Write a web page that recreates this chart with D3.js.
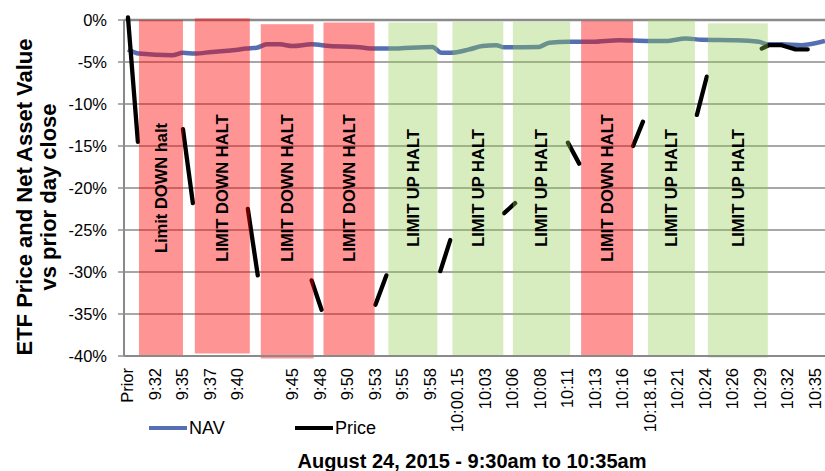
<!DOCTYPE html>
<html>
<head>
<meta charset="utf-8">
<script src="https://cdn.jsdelivr.net/npm/d3@7"></script>
<style>
    body { margin: 0; background: #fff; }
    text { font-family: "Liberation Sans", Arial, sans-serif; }
</style>
</head>
<body>
<svg></svg>
<script>
// Chart of ETF price and NAV during the halts of August 24, 2015

let width = 825,
    height = 471;

// Category labels, one per slot on the x axis (slot 5 has no label)
let tickLabels = ["Prior", "9:32", "9:35", "9:37", "9:40", "", "9:45", "9:48", "9:50",
    "9:53", "9:55", "9:58", "10:00.15", "10:03", "10:06", "10:08", "10:11", "10:13",
    "10:16", "10:18.16", "10:21", "10:24", "10:26", "10:29", "10:32", "10:35"];

let yTicks = [0, -5, -10, -15, -20, -25, -30, -35, -40];

// NAV vs prior day close (%), position given in slots
let navSlot = [0, 0.40, 1.60, 2.0, 2.43, 3.05, 3.81, 4.32, 4.68, 5.05, 5.52, 5.99, 6.68,
    7.33, 8.31, 8.97, 9.51, 11.07, 11.40, 11.76, 12.41, 12.89, 13.39, 13.68, 14.95, 15.32,
    16.04, 16.88, 17.86, 18.95, 19.56, 20.29, 20.87, 22.11, 22.94, 23.30, 23.77, 24.50, 25.35];
let navValue = [-3.5, -4.0, -4.2, -3.9, -4.0, -3.8, -3.6, -3.4, -3.3, -2.9, -2.9, -3.1, -2.9,
    -3.1, -3.2, -3.4, -3.4, -3.2, -3.9, -3.9, -3.5, -3.1, -3.0, -3.25, -3.2, -2.7,
    -2.6, -2.6, -2.4, -2.5, -2.5, -2.2, -2.35, -2.4, -2.6, -2.9, -2.9, -3.0, -2.5];

// Price vs prior day close (%), null marks a gap while trading is halted
let priceSlot = [0, 0.36, null, 2.0, 2.36, null, 4.36, 4.72, null, 6.68, 7.04, null,
    9.0, 9.40, null, 11.36, 11.72, null, 13.68, 14.08, null, 16.0, 16.41, null,
    18.37, 18.73, null, 20.69, 21.05, null, 23.05, 23.30, 23.77, 24.28, 24.72];
let priceValue = [0.3, -14.5, null, -13.0, -21.8, null, -22.5, -30.4, null, -31.0, -34.5, null,
    -33.9, -30.4, null, -29.9, -26.2, null, -23.0, -21.8, null, -14.6, -17.1, null,
    -15.0, -12.1, null, -11.3, -6.75, null, -3.4, -3.0, -3.0, -3.5, -3.5];

// Trading halts
let haltLabel = ["Limit DOWN halt", "LIMIT DOWN HALT", "LIMIT DOWN HALT", "LIMIT DOWN HALT",
    "LIMIT UP HALT", "LIMIT UP HALT", "LIMIT UP HALT", "LIMIT DOWN HALT",
    "LIMIT UP HALT", "LIMIT UP HALT"];
let haltType = ["down", "down", "down", "down", "up", "up", "up", "down", "up", "up"];
let haltStart = [0.40, 2.43, 4.83, 7.11, 9.47, 11.8, 14.0, 16.48, 18.91, 21.09];
let haltEnd = [2.0, 4.43, 6.75, 8.97, 11.25, 13.65, 16.08, 18.37, 20.62, 23.27];
let haltTop = [0, 0.2, -0.5, -0.3, -0.3, -0.2, -0.2, -0.1, 0, -0.4];
let haltBottom = [-40, -39.7, -40.3, -40, -40, -40, -40, -40, -40, -40.2];

let seriesNames = ["NAV", "Price"];

let margin = {left: 124, right: 0, top: 20, bottom: 115};

let svg = d3.select("svg")
    .attr("width", width)
    .attr("height", height);

let x = d3.scaleLinear()
    .domain([-0.145, 25.35])
    .range([margin.left, width - margin.right]);

let y = d3.scaleLinear()
    .domain([-40, 0])
    .range([height - margin.bottom, margin.top]);

// Horizontal grid lines
svg.append("g")
    .selectAll("line")
    .data(yTicks)
    .enter().append("line")
    .attr("x1", margin.left)
    .attr("x2", width)
    .attr("y1", d => y(d))
    .attr("y2", d => y(d))
    .style("stroke", "#8a8a8a")
    .style("stroke-width", d => d === 0 ? 2.5 : 1.4);

// NAV line
let navLine = d3.line()
    .x(d => x(d[0]))
    .y(d => y(d[1]))
    .curve(d3.curveMonotoneX);

svg.append("path")
    .datum(navSlot.map((s, i) => [s, navValue[i]]))
    .attr("d", navLine)
    .style("fill", "none")
    .style("stroke", "#5570b2")
    .style("stroke-width", 4.5)
    .style("stroke-linejoin", "round");

// Price line, broken during the halts
let priceLine = d3.line()
    .defined(d => d[0] !== null)
    .x(d => x(d[0]))
    .y(d => y(d[1]));

svg.append("path")
    .datum(priceSlot.map((s, i) => [s, priceValue[i]]))
    .attr("d", priceLine)
    .style("fill", "none")
    .style("stroke", "#000")
    .style("stroke-width", 4.3)
    .style("stroke-linecap", "round")
    .style("stroke-linejoin", "round");

// Halt bands, see-through so the lines show below them
let halts = haltLabel.map((label, i) => ({
    label: label,
    type: haltType[i],
    start: haltStart[i],
    end: haltEnd[i],
    top: haltTop[i],
    bottom: haltBottom[i]
}));

svg.append("g")
    .selectAll("rect")
    .data(halts)
    .enter().append("rect")
    .attr("x", d => x(d.start))
    .attr("width", d => x(d.end) - x(d.start))
    .attr("y", d => y(d.top))
    .attr("height", d => y(d.bottom) - y(d.top))
    .style("fill", d => d.type === "down" ? "#ff0000" : "#8fce4f")
    .style("fill-opacity", d => d.type === "down" ? 0.42 : 0.36);

svg.append("g")
    .selectAll("text")
    .data(halts)
    .enter().append("text")
    .attr("transform", d => "translate(" + x((d.start + d.end) / 2) + "," + y(-20) + ") rotate(-90)")
    .attr("dy", "0.35em")
    .attr("text-anchor", "middle")
    .style("font-size", "16.5px")
    .style("font-weight", "bold")
    .text(d => d.label);

// Left axis line and tick marks
svg.append("line")
    .attr("x1", margin.left)
    .attr("x2", margin.left)
    .attr("y1", y(0))
    .attr("y2", y(-40))
    .style("stroke", "#8a8a8a")
    .style("stroke-width", 2);

svg.append("g")
    .selectAll("line")
    .data(yTicks)
    .enter().append("line")
    .attr("x1", margin.left - 6)
    .attr("x2", margin.left)
    .attr("y1", d => y(d))
    .attr("y2", d => y(d))
    .style("stroke", "#8a8a8a")
    .style("stroke-width", 1.4);

svg.append("g")
    .selectAll("text")
    .data(yTicks)
    .enter().append("text")
    .attr("x", margin.left - 17)
    .attr("y", d => y(d))
    .attr("dy", "0.36em")
    .attr("text-anchor", "end")
    .style("font-size", "16.5px")
    .text(d => d + "%");

// Bottom axis line
svg.append("line")
    .attr("x1", margin.left)
    .attr("x2", width)
    .attr("y1", y(-40))
    .attr("y2", y(-40))
    .style("stroke", "#8a8a8a")
    .style("stroke-width", 2);

// Rotated category labels
svg.append("g")
    .selectAll("text")
    .data(tickLabels)
    .enter().append("text")
    .attr("transform", (d, i) => "translate(" + x(i) + "," + (y(-40) + 12) + ") rotate(-90)")
    .attr("dy", "0.32em")
    .attr("text-anchor", "end")
    .style("font-size", "16.5px")
    .text(d => d);

// Y axis title
let yTitle = svg.append("text")
    .attr("transform", "translate(24,197) rotate(-90)")
    .attr("text-anchor", "middle")
    .style("font-size", "22px")
    .style("font-weight", "bold");

yTitle.append("tspan")
    .attr("x", 0)
    .attr("dy", "0.36em")
    .text("ETF Price and Net Asset Value");

yTitle.append("tspan")
    .attr("x", 0)
    .attr("dy", "1.1em")
    .text("vs prior day close");

// Legend
let legend = svg.append("g")
    .selectAll("g")
    .data(seriesNames)
    .enter().append("g")
    .attr("transform", (d, i) => "translate(" + (149 + i * 146) + ",428)");

legend.append("line")
    .attr("x1", 0)
    .attr("x2", 38)
    .style("stroke", (d, i) => i === 0 ? "#5570b2" : "#000")
    .style("stroke-width", 4);

legend.append("text")
    .attr("x", 40)
    .attr("dy", "0.36em")
    .style("font-size", "18px")
    .text(d => d);

// X axis title
svg.append("text")
    .attr("x", 472)
    .attr("y", 468)
    .attr("text-anchor", "middle")
    .style("font-size", "20px")
    .style("font-weight", "bold")
    .text("August 24, 2015 - 9:30am to 10:35am");
</script>
</body>
</html>
